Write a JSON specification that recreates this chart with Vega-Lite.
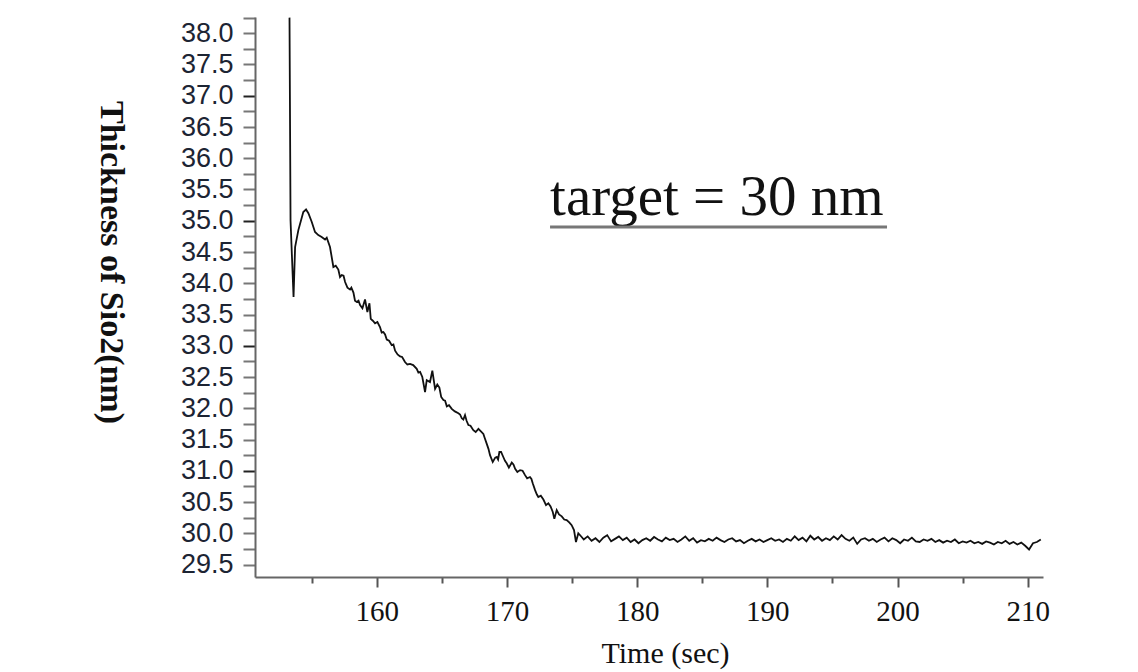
{
  "$schema": "https://vega.github.io/schema/vega-lite/v6.json",
  "width": 788,
  "height": 560,
  "autosize": {"type": "none"},
  "padding": {"left": 255, "top": 17, "right": 95, "bottom": 95},
  "background": "white",
  "config": {"view": {"stroke": null}},
  "datasets": {
    "trace": [
      {"t":153.30,"v":38.25},{"t":153.38,"v":35.00},{"t":153.61,"v":33.78},{"t":153.73,"v":34.58},{"t":153.98,"v":34.85},
      {"t":154.36,"v":35.14},{"t":154.57,"v":35.18},{"t":154.75,"v":35.12},{"t":155.01,"v":34.98},{"t":155.26,"v":34.82},
      {"t":155.51,"v":34.77},{"t":155.77,"v":34.74},{"t":156.03,"v":34.70},{"t":156.16,"v":34.73},{"t":156.41,"v":34.58},
      {"t":156.67,"v":34.26},{"t":156.85,"v":34.28},{"t":157.05,"v":34.22},{"t":157.18,"v":34.10},{"t":157.31,"v":34.13},
      {"t":157.45,"v":34.12},{"t":157.57,"v":34.02},{"t":157.75,"v":33.93},{"t":157.95,"v":33.90},{"t":158.05,"v":33.93},
      {"t":158.21,"v":33.85},{"t":158.33,"v":33.72},{"t":158.46,"v":33.70},{"t":158.60,"v":33.72},{"t":158.72,"v":33.65},
      {"t":158.90,"v":33.60},{"t":159.10,"v":33.74},{"t":159.28,"v":33.54},{"t":159.44,"v":33.68},{"t":159.54,"v":33.43},
      {"t":159.70,"v":33.40},{"t":159.87,"v":33.36},{"t":160.05,"v":33.38},{"t":160.25,"v":33.30},{"t":160.38,"v":33.21},
      {"t":160.51,"v":33.22},{"t":160.64,"v":33.18},{"t":160.77,"v":33.10},{"t":160.95,"v":33.08},{"t":161.15,"v":33.01},
      {"t":161.28,"v":33.02},{"t":161.41,"v":32.92},{"t":161.60,"v":32.86},{"t":161.79,"v":32.83},{"t":161.95,"v":32.82},
      {"t":162.17,"v":32.74},{"t":162.35,"v":32.70},{"t":162.56,"v":32.71},{"t":162.80,"v":32.69},{"t":163.07,"v":32.63},
      {"t":163.20,"v":32.57},{"t":163.33,"v":32.58},{"t":163.50,"v":32.50},{"t":163.71,"v":32.26},{"t":163.84,"v":32.45},
      {"t":164.09,"v":32.42},{"t":164.27,"v":32.60},{"t":164.48,"v":32.31},{"t":164.65,"v":32.38},{"t":164.81,"v":32.33},
      {"t":164.95,"v":32.18},{"t":165.12,"v":32.13},{"t":165.25,"v":32.12},{"t":165.38,"v":32.03},{"t":165.55,"v":32.05},
      {"t":165.76,"v":31.99},{"t":166.00,"v":31.95},{"t":166.27,"v":31.92},{"t":166.40,"v":31.90},{"t":166.53,"v":31.84},
      {"t":166.65,"v":31.82},{"t":166.78,"v":31.89},{"t":166.90,"v":31.80},{"t":167.04,"v":31.73},{"t":167.20,"v":31.72},
      {"t":167.42,"v":31.65},{"t":167.60,"v":31.62},{"t":167.81,"v":31.67},{"t":168.00,"v":31.63},{"t":168.19,"v":31.59},
      {"t":168.30,"v":31.52},{"t":168.45,"v":31.43},{"t":168.58,"v":31.35},{"t":168.70,"v":31.25},{"t":168.91,"v":31.14},
      {"t":169.10,"v":31.21},{"t":169.22,"v":31.22},{"t":169.32,"v":31.18},{"t":169.42,"v":31.30},{"t":169.55,"v":31.30},
      {"t":169.72,"v":31.22},{"t":169.85,"v":31.16},{"t":169.98,"v":31.12},{"t":170.15,"v":31.05},{"t":170.37,"v":31.13},
      {"t":170.50,"v":31.10},{"t":170.63,"v":31.03},{"t":170.80,"v":30.98},{"t":171.01,"v":31.01},{"t":171.20,"v":31.00},
      {"t":171.39,"v":30.93},{"t":171.55,"v":30.88},{"t":171.77,"v":30.90},{"t":171.88,"v":30.87},{"t":171.98,"v":30.80},
      {"t":172.16,"v":30.69},{"t":172.30,"v":30.62},{"t":172.41,"v":30.58},{"t":172.60,"v":30.60},{"t":172.80,"v":30.54},
      {"t":173.00,"v":30.45},{"t":173.18,"v":30.48},{"t":173.35,"v":30.43},{"t":173.52,"v":30.34},{"t":173.64,"v":30.23},
      {"t":173.82,"v":30.37},{"t":174.00,"v":30.30},{"t":174.21,"v":30.27},{"t":174.40,"v":30.22},{"t":174.59,"v":30.21},
      {"t":174.80,"v":30.17},{"t":174.97,"v":30.13},{"t":175.15,"v":30.05},{"t":175.30,"v":29.86},{"t":175.48,"v":30.00},
      {"t":175.74,"v":29.94},
      {"t":175.9,"v":29.90},{"t":176.2,"v":29.95},{"t":176.5,"v":29.88},{"t":176.8,"v":29.92},{"t":177.1,"v":29.86},
      {"t":177.4,"v":29.93},{"t":177.7,"v":29.97},{"t":178.0,"v":29.87},{"t":178.3,"v":29.91},{"t":178.6,"v":29.95},
      {"t":178.9,"v":29.89},{"t":179.2,"v":29.93},{"t":179.5,"v":29.86},{"t":179.8,"v":29.90},{"t":180.1,"v":29.84},
      {"t":180.4,"v":29.89},{"t":180.7,"v":29.92},{"t":181.0,"v":29.88},{"t":181.3,"v":29.94},{"t":181.6,"v":29.90},
      {"t":181.9,"v":29.87},{"t":182.2,"v":29.93},{"t":182.5,"v":29.89},{"t":182.8,"v":29.91},{"t":183.1,"v":29.86},
      {"t":183.4,"v":29.90},{"t":183.7,"v":29.95},{"t":184.0,"v":29.88},{"t":184.3,"v":29.92},{"t":184.6,"v":29.85},
      {"t":184.9,"v":29.89},{"t":185.2,"v":29.87},{"t":185.5,"v":29.91},{"t":185.8,"v":29.88},{"t":186.1,"v":29.93},
      {"t":186.4,"v":29.89},{"t":186.7,"v":29.86},{"t":187.0,"v":29.90},{"t":187.3,"v":29.92},{"t":187.6,"v":29.87},
      {"t":187.9,"v":29.89},{"t":188.2,"v":29.84},{"t":188.5,"v":29.88},{"t":188.8,"v":29.91},{"t":189.1,"v":29.87},
      {"t":189.4,"v":29.90},{"t":189.7,"v":29.86},{"t":190.0,"v":29.89},{"t":190.3,"v":29.92},{"t":190.6,"v":29.88},
      {"t":190.9,"v":29.90},{"t":191.2,"v":29.86},{"t":191.5,"v":29.91},{"t":191.8,"v":29.88},{"t":192.1,"v":29.95},
      {"t":192.4,"v":29.89},{"t":192.7,"v":29.93},{"t":193.0,"v":29.87},{"t":193.3,"v":29.96},{"t":193.6,"v":29.90},
      {"t":193.9,"v":29.94},{"t":194.2,"v":29.88},{"t":194.5,"v":29.92},{"t":194.8,"v":29.89},{"t":195.1,"v":29.95},
      {"t":195.4,"v":29.90},{"t":195.7,"v":29.97},{"t":196.0,"v":29.91},{"t":196.3,"v":29.88},{"t":196.6,"v":29.93},
      {"t":196.9,"v":29.83},{"t":197.2,"v":29.90},{"t":197.5,"v":29.92},{"t":197.8,"v":29.88},{"t":198.1,"v":29.91},
      {"t":198.4,"v":29.86},{"t":198.7,"v":29.90},{"t":199.0,"v":29.93},{"t":199.3,"v":29.87},{"t":199.6,"v":29.92},
      {"t":199.9,"v":29.89},{"t":200.2,"v":29.84},{"t":200.5,"v":29.90},{"t":200.8,"v":29.88},{"t":201.1,"v":29.93},
      {"t":201.4,"v":29.87},{"t":201.7,"v":29.86},{"t":202.0,"v":29.90},{"t":202.3,"v":29.88},{"t":202.6,"v":29.91},
      {"t":202.9,"v":29.86},{"t":203.2,"v":29.89},{"t":203.5,"v":29.85},{"t":203.8,"v":29.88},{"t":204.1,"v":29.86},
      {"t":204.4,"v":29.90},{"t":204.7,"v":29.84},{"t":205.0,"v":29.87},{"t":205.3,"v":29.85},{"t":205.6,"v":29.88},
      {"t":205.9,"v":29.84},{"t":206.2,"v":29.86},{"t":206.5,"v":29.83},{"t":206.8,"v":29.87},{"t":207.1,"v":29.85},
      {"t":207.4,"v":29.82},{"t":207.7,"v":29.86},{"t":208.0,"v":29.84},{"t":208.3,"v":29.88},{"t":208.6,"v":29.83},
      {"t":208.9,"v":29.86},{"t":209.2,"v":29.82},{"t":209.5,"v":29.85},{"t":209.8,"v":29.80},{"t":210.1,"v":29.74},
      {"t":210.4,"v":29.84},{"t":210.7,"v":29.86},{"t":211.0,"v":29.90}
    ],
    "note": [{"t":173.31,"v":35.09,"t2":199.19,"vu":34.9,"label":"target = 30 nm"}]
  },
  "layer": [
    {
      "data": {"name": "trace"},
      "mark": {"type": "line", "color": "#111111", "strokeWidth": 1.8, "clip": true},
      "encoding": {
        "x": {
          "field": "t", "type": "quantitative",
          "scale": {"domain": [150.65, 211.17], "nice": false, "zero": false},
          "axis": {
            "title": "Time (sec)",
            "values": [155,160,165,170,175,180,185,190,195,200,205,210],
            "tickCount": 100,
            "labelExpr": "datum.value % 10 == 0 ? datum.label : ''",
            "format": "d",
            "grid": false,
            "domainColor": "#666666", "domainWidth": 2,
            "tickColor": "#555555", "tickWidth": 2,
            "tickSize": {"condition": {"test": "datum.value % 10 == 0", "value": 10}, "value": 6},
            "labelFont": "Liberation Serif", "labelFontSize": 29, "labelColor": "#111111",
            "labelPadding": 10, "labelOverlap": false, "labelFlush": false,
            "titleFont": "Liberation Serif", "titleFontSize": 30, "titleFontWeight": "normal", "titleColor": "#111111",
            "titleX": 410, "titleY": 76, "titleAlign": "center", "titleBaseline": "middle", "titleAnchor": null
          }
        },
        "y": {
          "field": "v", "type": "quantitative",
          "scale": {"domain": [29.3, 38.26], "nice": false, "zero": false},
          "axis": {
            "title": "Thickness of Sio2(nm)",
            "values": [29.5,29.75,30,30.25,30.5,30.75,31,31.25,31.5,31.75,32,32.25,32.5,32.75,33,33.25,33.5,33.75,34,34.25,34.5,34.75,35,35.25,35.5,35.75,36,36.25,36.5,36.75,37,37.25,37.5,37.75,38,38.25],
            "tickCount": 100,
            "labelExpr": "(datum.value * 2) % 1 == 0 ? format(datum.value, '.1f') : ''",
            "grid": false,
            "domainColor": "#666666", "domainWidth": 2,
            "tickColor": {"condition": {"test": "datum.value % 2 == 1", "value": "#222222"}, "value": "#777777"},
            "tickWidth": 2, "tickSize": 12,
            "labelFont": "Liberation Sans", "labelFontSize": 27, "labelColor": "#1c2433",
            "labelPadding": 10, "labelOverlap": false, "labelFlush": false,
            "titleFont": "Liberation Serif", "titleFontSize": 34, "titleFontWeight": "bold", "titleColor": "#111111",
            "titleAngle": 90, "titleX": -145, "titleY": 245, "titleAlign": "center", "titleBaseline": "middle", "titleAnchor": null
          }
        }
      }
    },
    {
      "data": {"name": "note"},
      "mark": {"type": "text", "font": "Liberation Serif", "fontSize": 57, "align": "left", "baseline": "alphabetic", "color": "#111111"},
      "encoding": {
        "x": {"field": "t", "type": "quantitative"},
        "y": {"field": "v", "type": "quantitative"},
        "text": {"field": "label"}
      }
    },
    {
      "data": {"name": "note"},
      "mark": {"type": "rule", "color": "#777777", "strokeWidth": 3},
      "encoding": {
        "x": {"field": "t", "type": "quantitative"},
        "x2": {"field": "t2"},
        "y": {"field": "vu", "type": "quantitative"}
      }
    }
  ]
}
